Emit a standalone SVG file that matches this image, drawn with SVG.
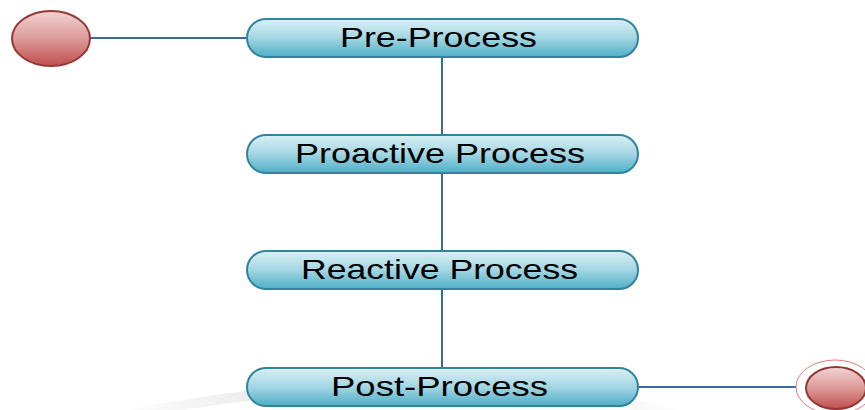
<svg xmlns="http://www.w3.org/2000/svg" width="865" height="410" viewBox="0 0 865 410">
<defs>
<linearGradient id="gBox" x1="0" y1="0" x2="0" y2="1">
<stop offset="0" stop-color="#daf0f5"/>
<stop offset="0.5" stop-color="#a3d6e3"/>
<stop offset="1" stop-color="#4eaec6"/>
</linearGradient>
<linearGradient id="gRed" x1="0" y1="0" x2="0" y2="1">
<stop offset="0" stop-color="#f3d3d3"/>
<stop offset="0.5" stop-color="#dc9a99"/>
<stop offset="1" stop-color="#c0504d"/>
</linearGradient>
<linearGradient id="gShadow" x1="0" y1="0" x2="1" y2="0">
<stop offset="0" stop-color="#eeeeee" stop-opacity="0"/>
<stop offset="0.25" stop-color="#ebebeb"/>
<stop offset="0.75" stop-color="#ebebeb"/>
<stop offset="1" stop-color="#eeeeee" stop-opacity="0"/>
</linearGradient>
</defs>
<style>
.box{fill:url(#gBox);stroke:#31849b;stroke-width:2}
.red{fill:url(#gRed);stroke:#953735;stroke-width:2}
.lbl{font-family:"Liberation Sans",Arial,sans-serif;font-size:28px;fill:#000;text-anchor:start}
.conn{stroke:#3c6aa0;stroke-width:2;fill:none}
</style>
<path d="M110,418 Q440,352 690,418" fill="none" stroke="url(#gShadow)" stroke-width="10"/>
<g id="connectors">
<line class="conn" x1="90" y1="38" x2="247" y2="38"/>
<line class="conn" x1="442" y1="57" x2="442" y2="135"/>
<line class="conn" x1="442" y1="173" x2="442" y2="251"/>
<line class="conn" x1="442" y1="289" x2="442" y2="368"/>
<line class="conn" x1="638" y1="387" x2="796" y2="387"/>
</g>
<g id="start">
<ellipse class="red" cx="51" cy="38.5" rx="39" ry="27.5"/>
</g>
<g id="pre">
<rect class="box" x="247" y="19" width="391" height="38" rx="19"/>
<text class="lbl" x="340" y="47" textLength="197" lengthAdjust="spacingAndGlyphs">Pre-Process</text>
</g>
<g id="proactive">
<rect class="box" x="247" y="135" width="391" height="38" rx="19"/>
<text class="lbl" x="295" y="163" textLength="290" lengthAdjust="spacingAndGlyphs">Proactive Process</text>
</g>
<g id="reactive">
<rect class="box" x="247" y="251" width="391" height="38" rx="19"/>
<text class="lbl" x="301" y="279" textLength="277" lengthAdjust="spacingAndGlyphs">Reactive Process</text>
</g>
<g id="post">
<rect class="box" x="247" y="368" width="391" height="38" rx="19"/>
<text class="lbl" x="331" y="396" textLength="217" lengthAdjust="spacingAndGlyphs">Post-Process</text>
</g>
<g id="end">
<ellipse cx="835" cy="387" rx="39" ry="27" fill="none" stroke="#e07a78" stroke-width="1"/>
<ellipse class="red" cx="836" cy="388" rx="30" ry="21"/>
</g>
</svg>
